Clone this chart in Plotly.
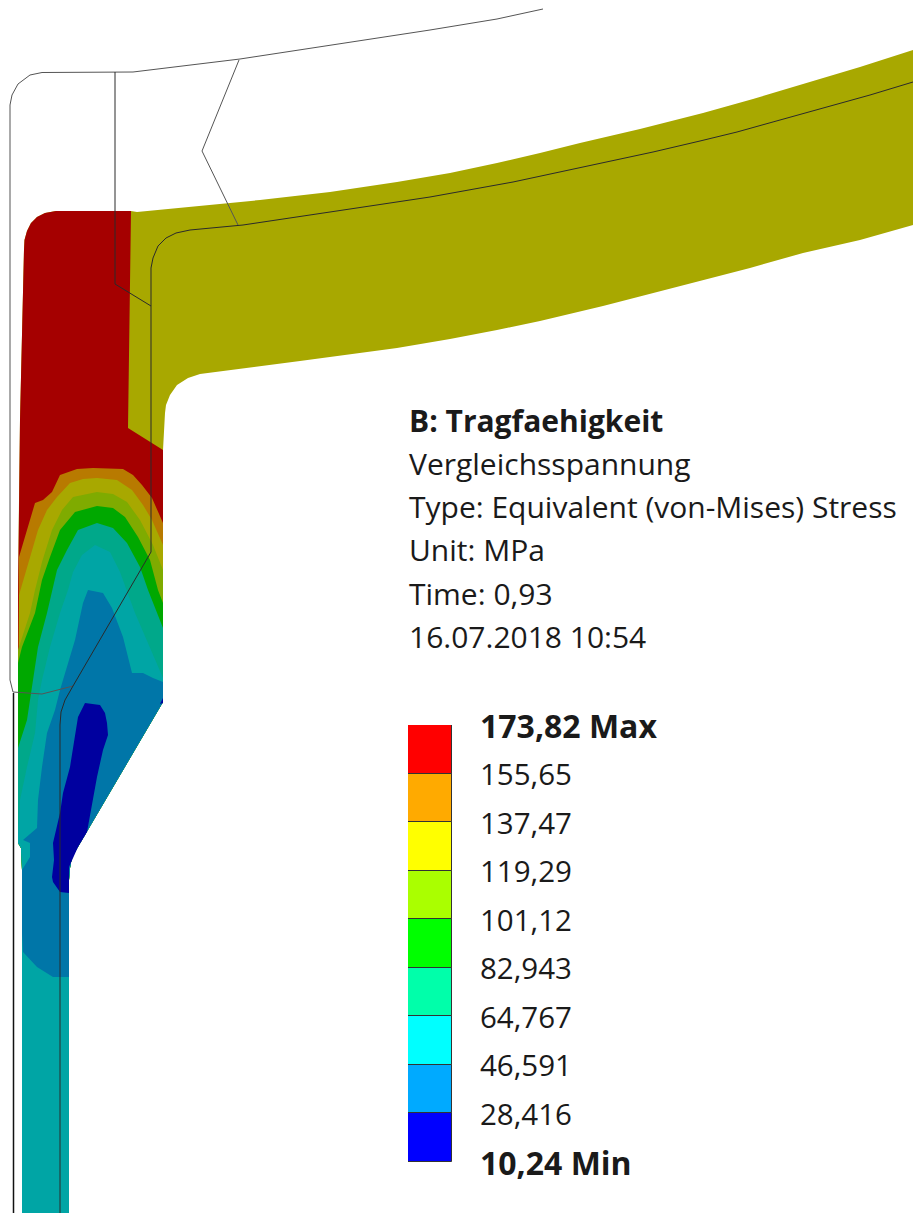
import plotly.graph_objects as go

# --- Legend data -------------------------------------------------------
LEVELS = [10.24, 28.416, 46.591, 64.767, 82.943, 101.12, 119.29, 137.47, 155.65, 173.82]
LEVEL_LABELS = ["<b>10,24 Min</b>", "28,416", "46,591", "64,767", "82,943", "101,12",
                "119,29", "137,47", "155,65", "<b>173,82 Max</b>"]
LEGEND_COLORS = ["#0000FF", "#00AAFF", "#00FFFF", "#00FFAA", "#00FF00",
                 "#AAFF00", "#FFFF00", "#FFAA00", "#FF0000"]

# --- Info block --------------------------------------------------------
INFO_LINES = ["<b>B: Tragfaehigkeit</b>", "Vergleichsspannung",
              "Type: Equivalent (von-Mises) Stress", "Unit: MPa", "Time: 0,93",
              "16.07.2018 10:54"]
INFO_Y = [420, 463, 506, 549, 593, 636]

# --- Contour regions ----------------------------------------------------
CORNER = [(24, 250), (24.5, 240), (27, 231), (31, 223), (37, 217), (45, 213), (56, 211)]
SILHOUETTE = CORNER + [(131, 211), (137, 212), (200, 206), (260, 200), (330, 192), (397, 182), (450, 173),
                       (497, 163), (540, 153), (580, 143), (640, 129), (703, 113), (753, 99), (803, 84),
                       (860, 67), (913, 50), (913, 225), (860, 240), (803, 253), (750, 268), (703, 280),
                       (650, 294), (603, 306), (540, 321), (497, 330), (450, 339), (397, 348), (300, 361),
                       (230, 370), (215, 372), (200, 374), (188, 378), (177, 385), (170, 395), (166, 405),
                       (165, 413), (163, 450), (163, 702), (72, 857), (70, 868), (69, 880), (69, 1213),
                       (22, 1213), (22, 870), (21, 848), (18, 843), (18, 600), (19, 500), (20, 420)]
RED = CORNER + [(131, 211), (128, 428), (163, 450), (163, 702), (18, 702), (18, 600), (19, 500), (20, 420)]
TAIL = [(163, 702), (72, 857), (70, 868), (69, 880), (69, 1213), (22, 1213), (22, 870), (21, 848), (18, 843)]
ORANGE_ARCH = [(19, 557), (27, 530), (35, 503), (43, 500), (52, 492), (60, 475), (77, 469), (93, 468),
               (123, 469), (133, 475), (142, 485), (152, 498), (158, 512), (163, 523)]
OLIVE_ARCH = [(19, 595), (22, 585), (30, 556), (38, 530), (47, 510), (57, 497), (70, 483), (83, 479), (97, 478),
              (117, 480), (132, 490), (143, 505), (152, 520), (163, 545)]
LIME_ARCH = [(18, 650), (30, 613), (35, 590), (42, 562), (52, 530), (62, 510), (73, 497), (97, 492),
             (113, 494), (127, 502), (140, 520), (153, 545), (163, 570)]
GREEN_ARCH = [(18, 663), (22, 647), (35, 613), (42, 580), (50, 557), (60, 530), (75, 512), (97, 506),
              (113, 508), (125, 517), (138, 537), (150, 560), (158, 590), (163, 603)]
SEA_ARCH = [(18, 748), (22, 735), (27, 720), (30, 700), (33, 680), (38, 647), (47, 613), (52, 590), (57, 570),
            (67, 550), (78, 530), (97, 523), (113, 528), (127, 543), (140, 567), (148, 590), (163, 628)]
TEAL_ARCH = [(18, 835), (20, 800), (27, 767), (35, 733), (38, 700), (42, 680), (50, 647), (60, 613), (68, 590),
             (73, 572), (82, 555), (95, 545), (110, 552), (120, 572), (135, 613), (150, 647), (163, 678)]
BLUE = [(88, 590), (103, 593), (112, 608), (123, 637), (132, 673), (143, 673), (153, 678), (163, 682), (163, 702),
        (72, 857), (70, 868), (69, 880), (69, 977), (53, 977), (37, 967), (23, 952), (22, 933), (22, 870),
        (30, 857), (30, 843), (23, 840), (37, 828), (38, 800), (42, 767), (47, 733), (55, 710), (60, 690),
        (65, 673), (75, 640), (83, 603)]
NAVY = [(85, 703), (100, 705), (105, 713), (107, 723), (108, 735), (103, 750), (97, 777), (93, 800), (88, 827),
        (87, 832), (78, 847), (72, 860), (69, 867), (69, 893), (60, 892), (53, 882), (52, 877), (54, 860),
        (53, 843), (60, 813), (63, 793), (70, 767), (75, 733), (78, 717)]
NAVY_TIP = [(163, 698), (163, 703), (160, 704)]

REGION_COLORS = {"silhouette": "#A8A800", "red": "#A50000", "orange": "#B87A00", "olive": "#A8A800",
                 "lime": "#7FAB00", "green": "#00A800", "sea": "#00A88A", "teal": "#00A5A5",
                 "blue": "#0076A8", "navy": "#00009F"}

# --- Wireframe lines ----------------------------------------------------
LINE_OUTER = [(543, 9), (497, 19), (430, 30), (330, 45), (240, 59), (133, 72), (42, 72.5), (30, 75), (18, 84),
              (12, 95), (10, 105), (10, 680), (13, 692), (42, 694), (73, 686)]
LINE_INNER = [(115, 72), (115, 284), (151, 306), (151, 552), (73, 686), (65, 700), (61, 712), (60, 725), (60, 1213)]
LINE_ZIGZAG = [(239, 60), (202, 151), (238, 225)]
LINE_ARC = [(151, 306), (151, 268), (153, 258), (158, 246), (166, 238), (176, 233), (190, 230), (243, 225),
            (330, 212), (430, 197), (513, 182), (580, 168), (653, 152), (700, 141), (737, 132), (780, 120),
            (820, 109), (870, 95), (913, 82)]
LINE_STEM = [(13.5, 693), (13.5, 1213)]

fig = go.Figure()


def fill_poly(points, color):
    fig.add_trace(go.Scatter(x=[p[0] for p in points], y=[p[1] for p in points], mode="lines",
                             fill="toself", fillcolor=color, line=dict(width=0, color=color),
                             hoverinfo="skip", showlegend=False))


def wire(points, color="#2a2a2a", width=1):
    fig.add_trace(go.Scatter(x=[p[0] for p in points], y=[p[1] for p in points], mode="lines",
                             line=dict(width=width, color=color), hoverinfo="skip", showlegend=False))


fill_poly(SILHOUETTE, REGION_COLORS["silhouette"])
fill_poly(RED, REGION_COLORS["red"])
fill_poly(ORANGE_ARCH + TAIL, REGION_COLORS["orange"])
fill_poly(OLIVE_ARCH + TAIL, REGION_COLORS["olive"])
fill_poly(LIME_ARCH + TAIL, REGION_COLORS["lime"])
fill_poly(GREEN_ARCH + TAIL, REGION_COLORS["green"])
fill_poly(SEA_ARCH + TAIL, REGION_COLORS["sea"])
fill_poly(TEAL_ARCH + TAIL, REGION_COLORS["teal"])
fill_poly(BLUE, REGION_COLORS["blue"])
fill_poly(NAVY, REGION_COLORS["navy"])
fill_poly(NAVY_TIP, REGION_COLORS["navy"])

wire(LINE_OUTER, "#555555")
wire(LINE_INNER)
wire(LINE_ZIGZAG, "#555555")
wire(LINE_ARC)
wire(LINE_STEM, "#111111", 1.5)

fig.add_trace(go.Bar(x=[0] * len(LEGEND_COLORS),
                     y=[b - a for a, b in zip(LEVELS[:-1], LEVELS[1:])],
                     base=LEVELS[:-1], width=1, marker=dict(color=LEGEND_COLORS, line=dict(color="#333333", width=1)),
                     xaxis="x2", yaxis="y2", hoverinfo="skip", showlegend=False))

FONT = "Open Sans"
annotations = [dict(x=407, y=y, xref="x", yref="y", text=t, showarrow=False, xanchor="left", yanchor="middle",
                    font=dict(family=FONT, size=30, color="#1a1a1a"))
               for t, y in zip(INFO_LINES, INFO_Y)]
annotations += [dict(x=478, y=v, xref="x", yref="y2", text=t, showarrow=False, xanchor="left", yanchor="middle",
                     font=dict(family=FONT, size=32 if t.startswith("<b>") else 29.5, color="#1a1a1a"))
                for t, v in zip(LEVEL_LABELS, LEVELS)]

fig.update_layout(
    width=913, height=1213, margin=dict(l=0, r=0, t=0, b=0), paper_bgcolor="white", plot_bgcolor="white",
    barmode="overlay", bargap=0, showlegend=False, annotations=annotations,
    xaxis=dict(range=[0, 913], visible=False, domain=[0, 1], fixedrange=True),
    yaxis=dict(range=[1213, 0], visible=False, domain=[0, 1], fixedrange=True),
    xaxis2=dict(range=[-0.5, 0.5], visible=False, domain=[408 / 913, 452 / 913], anchor="y2"),
    yaxis2=dict(range=[10.24, 173.82], visible=False, domain=[1 - 1162 / 1213, 1 - 725 / 1213], anchor="x2"),
)
fig.write_html("out.html", config={"displayModeBar": False},
               post_script="document.body.style.margin='0';document.body.style.overflow='hidden';")
